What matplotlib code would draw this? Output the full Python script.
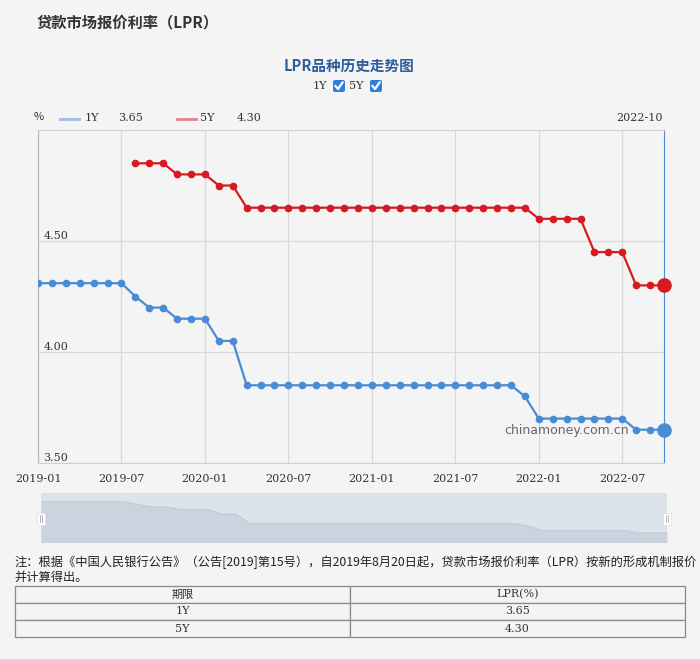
import numpy as np
import matplotlib.pyplot as plt
from matplotlib.patches import Rectangle, FancyBboxPatch

plt.rcParams['font.family'] = ['Noto Sans CJK SC', 'DejaVu Sans']

# 月度 LPR 数据, 2019-01 ~ 2022-10 (46 个月)
rate_1y = [4.31, 4.31, 4.31, 4.31, 4.31, 4.31, 4.31,
           4.25, 4.20, 4.20, 4.15, 4.15, 4.15, 4.05, 4.05,
           3.85, 3.85, 3.85, 3.85, 3.85, 3.85, 3.85, 3.85, 3.85, 3.85,
           3.85, 3.85, 3.85, 3.85, 3.85, 3.85, 3.85, 3.85, 3.85, 3.85,
           3.80,
           3.70, 3.70, 3.70, 3.70, 3.70, 3.70, 3.70, 3.65, 3.65, 3.65]
rate_5y = [np.nan] * 7 + [4.85, 4.85, 4.85, 4.80, 4.80, 4.80, 4.75, 4.75,
           4.65, 4.65, 4.65, 4.65, 4.65, 4.65, 4.65, 4.65, 4.65, 4.65,
           4.65, 4.65, 4.65, 4.65, 4.65, 4.65, 4.65, 4.65, 4.65, 4.65,
           4.65,
           4.60, 4.60, 4.60, 4.60, 4.45, 4.45, 4.45, 4.30, 4.30, 4.30]
tick_labels = ["2019-01", "2019-07", "2020-01", "2020-07",
               "2021-01", "2021-07", "2022-01", "2022-07"]
table_rows = [["1Y", "3.65"], ["5Y", "4.30"]]
table_header = ["期限", "LPR(%)"]

W, H = 700, 659
BG = "#f4f4f4"
BLUE = "#4a8bd6"
RED = "#d71920"
TXT = "#333333"


def box(l, t, r, b):
    # 像素坐标 -> figure 坐标
    return [l / W, 1 - b / H, (r - l) / W, (b - t) / H]


def fx(x):
    return x / W


def fy(y):
    return 1 - y / H


fig = plt.figure(figsize=(7, 6.59), dpi=100, facecolor=BG)

# 标题
fig.text(fx(37), fy(22), "贷款市场报价利率（LPR）", fontsize=11, color=TXT,
         fontweight="bold", va="center", ha="left")
fig.text(fx(349), fy(66), "LPR品种历史走势图", fontsize=10.5, color="#2e5d9f",
         fontweight="bold", va="center", ha="center")

# 勾选框
fig.text(fx(327), fy(86), "1Y", fontsize=8, color=TXT, va="center", ha="right",
         family="DejaVu Serif")
fig.text(fx(364), fy(86), "5Y", fontsize=8, color=TXT, va="center", ha="right",
         family="DejaVu Serif")
for cx in [339, 376]:
    fig.patches.append(FancyBboxPatch((fx(cx - 6), fy(92)), 12 / W, 12 / H,
                                      boxstyle="round,pad=0,rounding_size=0.003",
                                      transform=fig.transFigure, fc="#2f7de0", ec="none"))
    fig.lines.append(plt.Line2D([fx(cx - 3.5), fx(cx - 1), fx(cx + 3.5)],
                                [fy(86), fy(89), fy(82.5)], transform=fig.transFigure,
                                color="white", lw=1.6))

# 图例行
fig.text(fx(34), fy(117), "%", fontsize=8, color=TXT, va="center")
fig.lines.append(plt.Line2D([fx(60), fx(79)], [fy(119), fy(119)],
                            transform=fig.transFigure, color="#9ebde3", lw=2))
fig.text(fx(85), fy(118), "1Y", fontsize=8, color=TXT, va="center", family="DejaVu Serif")
fig.text(fx(118), fy(118), "3.65", fontsize=8, color=TXT, va="center", family="DejaVu Serif")
fig.lines.append(plt.Line2D([fx(177), fx(196)], [fy(119), fy(119)],
                            transform=fig.transFigure, color="#e2838a", lw=2))
fig.text(fx(200), fy(118), "5Y", fontsize=8, color=TXT, va="center", family="DejaVu Serif")
fig.text(fx(237), fy(118), "4.30", fontsize=8, color=TXT, va="center", family="DejaVu Serif")
fig.text(fx(663), fy(118), "2022-10", fontsize=8, color=TXT, va="center", ha="right",
         family="DejaVu Serif")

# 主图
ax = fig.add_axes(box(38, 130, 664, 463), facecolor=BG)
x = np.arange(len(rate_1y))
ax.plot(x, rate_1y, color=BLUE, lw=1.6, marker="o", ms=4.5, zorder=3)
ax.plot(x, rate_5y, color=RED, lw=1.6, marker="o", ms=4.5, zorder=3)
ax.plot(x[-1], rate_1y[-1], "o", color=BLUE, ms=9.5, zorder=4, clip_on=False)
ax.plot(x[-1], rate_5y[-1], "o", color=RED, ms=9.5, zorder=4, clip_on=False)
ax.set_xlim(0, len(x) - 1)
ax.set_ylim(3.5, 5.0)
ax.set_xticks(np.arange(0, len(x), 6))
ax.set_xticklabels(tick_labels, family="DejaVu Serif", fontsize=8, color=TXT)
ax.set_yticks([3.5, 4.0, 4.5])
ax.set_yticklabels(["3.50", "4.00", "4.50"], family="DejaVu Serif", fontsize=8, color=TXT)
ax.tick_params(axis="x", length=0, pad=8)
ax.tick_params(axis="y", length=0, pad=-4)
for lbl in ax.get_yticklabels():
    lbl.set_ha("left")
    lbl.set_va("bottom")
ax.grid(True, color="#d8d8d8", lw=0.9)
ax.set_axisbelow(True)
for s in ["top", "bottom"]:
    ax.spines[s].set_color("#d0d0d0")
ax.spines["left"].set_color("#b8b8b8")
ax.spines["right"].set_color("#4a8bd6")
ax.text(33.5, 3.645, "chinamoney.com.cn", fontsize=9, color="#666666",
        va="center", ha="left", family="DejaVu Sans")

# 缩放滑块
axs = fig.add_axes(box(41, 493, 667, 542), facecolor="#dde3ea")
axs.fill_between(x, rate_1y, 3.0, color="#cbd3de", lw=0)
axs.plot(x, rate_1y, color="#c2cbd7", lw=1)
axs.set_xlim(0, len(x) - 1)
axs.set_ylim(3.46, 4.50)
axs.set_xticks([])
axs.set_yticks([])
for s in axs.spines.values():
    s.set_visible(False)
for hx in [41, 667]:
    fig.patches.append(Rectangle((fx(hx - 4), fy(525)), 8 / W, 12 / H,
                                 transform=fig.transFigure, fc="white", ec="#dddddd", lw=0.5))
    fig.lines.append(plt.Line2D([fx(hx - 1), fx(hx - 1)], [fy(522), fy(515)],
                                transform=fig.transFigure, color="#aaaaaa", lw=0.6))
    fig.lines.append(plt.Line2D([fx(hx + 1), fx(hx + 1)], [fy(522), fy(515)],
                                transform=fig.transFigure, color="#aaaaaa", lw=0.6))

# 注释
fig.text(fx(14), fy(562), "注：根据《中国人民银行公告》（公告[2019]第15号），自2019年8月20日起，"
         "贷款市场报价利率（LPR）按新的形成机制报价", fontsize=8.8, color="#222222",
         va="center", ha="left")
fig.text(fx(14), fy(577), "并计算得出。", fontsize=8.8, color="#222222",
         va="center", ha="left")

# 表格
axt = fig.add_axes(box(15, 586, 685, 637))
axt.axis("off")
tab = axt.table(cellText=table_rows, colLabels=table_header, cellLoc="center",
                bbox=[0, 0, 1, 1])
tab.auto_set_font_size(False)
for (r, c), cell in tab.get_celld().items():
    cell.set_facecolor(BG)
    cell.set_edgecolor("#8a8a8a")
    cell.set_linewidth(0.9)
    cell.get_text().set_fontsize(8)
    cell.get_text().set_color(TXT)
    cell.get_text().set_family(["DejaVu Serif", "Noto Sans CJK SC"])

fig.savefig("out.png", dpi=100, facecolor=BG)
